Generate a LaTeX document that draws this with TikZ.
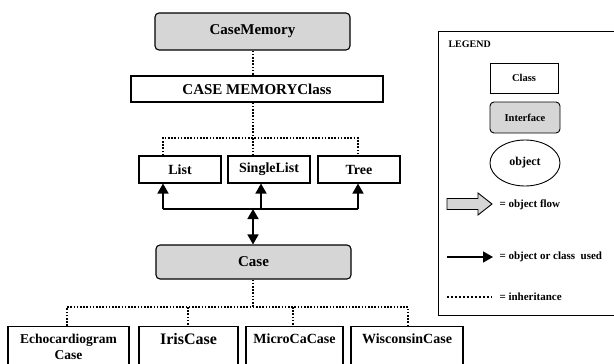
\documentclass[tikz,border=0pt]{standalone}
\usepackage{fontspec}
\setmainfont{Liberation Serif}
\usetikzlibrary{arrows.meta,shapes.geometric,positioning}
\tikzset{
  cls/.style={draw, line width=1.1pt, fill=white, inner sep=0pt},
  iface/.style={draw, line width=1.1pt, fill=gray!32, rounded corners=4pt, inner sep=0pt},
  inh/.style={line width=1.6pt, dash pattern=on 1.6pt off 1.6pt},
  used/.style={line width=1.6pt},
  usedarrow/.style={line width=1.6pt, -{Triangle[width=11pt,length=10pt]}},
  lbl/.style={font=\bfseries\fontsize{15}{17}\selectfont},
  lbls/.style={font=\bfseries\fontsize{14}{15}\selectfont},
  leg/.style={font=\bfseries\fontsize{10}{12}\selectfont},
  legs/.style={font=\bfseries\fontsize{11}{13}\selectfont},
}
\begin{document}
\begin{tikzpicture}[x=1pt,y=-1pt]
\useasboundingbox (0,0) rectangle (614,364);
\clip (0,0) rectangle (614,364);
% main boxes
\node[iface, minimum width=195pt, minimum height=37pt, lbl] (cm) at (252.5,31.5) {CaseMemory};
\node[cls, minimum width=252pt, minimum height=26pt, lbl] (cmc) at (257,89) {CASE MEMORYClass};
\node[cls, minimum width=82pt, minimum height=27pt, lbls] (list) at (180,169.5) {List};
\node[cls, minimum width=82pt, minimum height=27pt, lbls] (slist) at (269,169.5) {SingleList};
\node[cls, minimum width=82pt, minimum height=27pt, lbls] (tree) at (359,169.5) {Tree};
\node[iface, minimum width=195pt, minimum height=34pt, lbl] (case) at (253.5,262) {Case};
% bottom boxes (extend beyond the picture)
\node[cls, minimum width=121pt, minimum height=50pt, anchor=north] (echo) at (68.5,326) {};
\node[cls, minimum width=99pt, minimum height=50pt, anchor=north] (iris) at (188.5,326) {};
\node[cls, minimum width=97pt, minimum height=50pt, anchor=north] (micro) at (294.5,326) {};
\node[cls, minimum width=112pt, minimum height=50pt, anchor=north] (wisc) at (407,326) {};
\node[lbls, align=center, anchor=north, font=\bfseries\fontsize{13.5}{16}\selectfont] (echot) at (echo.north) [yshift=-5pt] {Echocardiogram\\Case};
\node[lbls, anchor=north, font=\bfseries\fontsize{16}{18}\selectfont] (irist) at (iris.north) [yshift=-4pt] {IrisCase};
\node[lbls, anchor=north] (microt) at (micro.north) [yshift=-4pt] {MicroCaCase};
\node[lbls, anchor=north] (wisct) at (wisc.north) [yshift=-4pt] {WisconsinCase};
% inheritance
\coordinate (j0) at (253,0);
\coordinate (j1) at (253,138);
\draw[inh] (cm.south -| j0) -- (cmc.north -| j0);
\draw[inh] (cmc.south -| j0) -- (j1);
\draw[inh] (list.north -| 163,0) |- (j1) -| (tree.north -| 358,0);
\draw[inh] (j1) -- (slist.north -| j1);
\coordinate (j2) at (253,307);
\draw[inh] (case.south -| j2) -- (j2);
\draw[inh] (echo.north -| 67,0) |- (j2) -| (wisc.north -| 408,0);
\draw[inh] (j2 -| 188,0) -- (iris.north -| 188,0);
\draw[inh] (j2 -| 293,0) -- (micro.north -| 293,0);
% object or class used
\coordinate (u1) at (163,209);
\coordinate (u2) at (358,209);
\coordinate (u3) at (261,209);
\coordinate (u4) at (253,209);
\draw[used] (u1) -- (u2);
\draw[usedarrow] (u1) -- (list.south -| u1);
\draw[usedarrow] (u2) -- (tree.south -| u2);
\draw[usedarrow] (u3) -- (slist.south -| u3);
\draw[line width=1.6pt, {Triangle[width=11pt,length=10pt]}-{Triangle[width=11pt,length=10pt]}] (u4) -- (case.north -| u4);
% legend
\draw[line width=1pt] (620,31) -- (438,31) -- (438,315) -- (620,315);
\node[leg, anchor=west] (legt) at (445,44) {LEGEND};
\node[cls, line width=0.9pt, minimum width=68pt, minimum height=30pt, font=\bfseries\fontsize{10.5}{12}\selectfont] (lcls) at (524,78) {Class};
\node[iface, line width=0.9pt, minimum width=70pt, minimum height=31pt, font=\bfseries\fontsize{10.5}{12}\selectfont] (lif) at (525,117.5) {Interface};
\node[draw, ellipse, line width=0.9pt, minimum width=70pt, minimum height=46pt, inner sep=0pt, font=\bfseries\fontsize{12}{14}\selectfont] (lobj) at (525,163) {object};
\draw[line width=0.9pt, fill=gray!32] (447,198.5) -- (478,198.5) -- (478,193) -- (492,204) -- (478,215) -- (478,209.5) -- (447,209.5) -- cycle;
\node[legs, anchor=west] (lflow) at (496,205) {= object flow};
\coordinate (la1) at (447,257);
\coordinate (la2) at (493,257);
\draw[usedarrow] (la1) -- (la2);
\node[legs, anchor=west] (lused) at (496,257) {= object or class\ \ used};
\coordinate (ld1) at (447,297);
\coordinate (ld2) at (492,297);
\draw[line width=1.3pt, dash pattern=on 1.5pt off 2.5pt] (ld1) -- (ld2);
\node[legs, anchor=west] (linh) at (496,297) {= inheritance};
\end{tikzpicture}
\end{document}
